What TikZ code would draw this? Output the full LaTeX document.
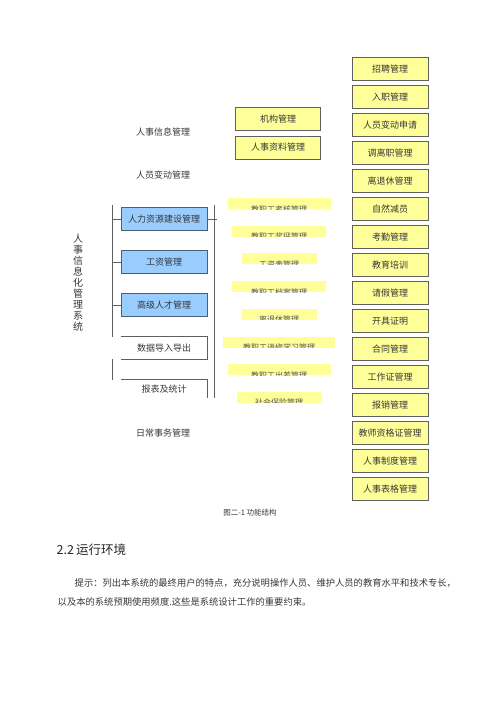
\documentclass[tikz,border=0pt]{standalone}
\usepackage{fontspec}
\newfontfamily\cjk{Noto Sans CJK SC}
\usetikzlibrary{positioning}

\definecolor{boxblue}{RGB}{153,204,255}
\definecolor{boxyellow}{RGB}{255,255,153}
\definecolor{edgeblue}{RGB}{75,95,115}
\definecolor{edgegray}{RGB}{95,95,95}
\definecolor{txt}{RGB}{55,55,55}

\begin{document}
\begin{tikzpicture}[x=1pt, y=-1pt, line width=0.8pt,
    every node/.style={font=\cjk\fontsize{9}{9}\selectfont, text=txt},
    bluebox/.style={draw=edgeblue, fill=boxblue, minimum width=86pt, minimum height=23pt, inner sep=0pt},
    plainbox/.style={minimum width=86pt, minimum height=22pt, inner sep=0pt},
    yellowbox/.style={draw=edgegray, fill=boxyellow, minimum height=23pt, inner sep=0pt},
    strip/.style={fill=boxyellow, minimum height=11pt, inner sep=0pt,
        path picture={\node[font=\cjk\fontsize{8}{8}\selectfont, text=black!65, inner sep=0pt]
            at (path picture bounding box.south) {#1};}},
    bar/.style={draw=edgegray, line width=0.7pt}]
    \useasboundingbox (0,0) rectangle (500,707);

    % system title, written top to bottom
    \node[align=center, font=\cjk\fontsize{10}{11}\selectfont] (sys) at (78,283)
        {人\\事\\信\\息\\化\\管\\理\\系\\统};

    % second level
    \node (info) at (163,132) {人事信息管理};
    \node (move) at (163,175) {人员变动管理};
    \node[bluebox] (hr1) at (164,219) {人力资源建设管理};
    \node[bluebox] (hr2) at (164,262) {工资管理};
    \node[bluebox] (hr3) at (164,305) {高级人才管理};
    \node[plainbox] (imp) at (164,348) {数据导入导出};
    \node[plainbox, minimum height=18pt] (rep) at (164,389) {报表及统计};
    \node (daily) at (163,433) {日常事务管理};
    \draw[bar] (imp.north west) -- (imp.north east) -- (imp.south east) -- (imp.south west);
    \draw[bar] (rep.north west) -- (rep.north east) -- (rep.south east);

    % brackets
    \coordinate (lt) at (112,205);
    \coordinate (lb) at (112,337);
    \coordinate (lt2) at (112,359);
    \coordinate (lb2) at (112,380);
    \coordinate (rt) at (214,205);
    \coordinate (rb) at (214,398);
    \draw[bar] (lt) -- (lb);
    \draw[bar] (lt2) -- (lb2);
    \draw[bar] (rt) -- (rb);
    \foreach \n in {hr1,hr2,hr3}
        \draw[bar] (\n.west) -- (\n.west -| lt);
    \draw[bar] (hr1.east) -- ([xshift=3pt]hr1.east -| rt);

    % third level
    \node[yellowbox, minimum width=85pt] (org) at (278,119) {机构管理};
    \node[yellowbox, minimum width=85pt] (file) at (278,147.5) {人事资料管理};
    \foreach \w/\t [count=\i from 0] in {103/教职工考核管理, 94/教职工奖惩管理, 75/工资表管理,
        94/教职工档案管理, 75/离退休管理, 112/教职工进修学习管理, 103/教职工出差管理, 84/社会保险管理}
        \node[strip=\t, minimum width=\w] (m\i) at (279,{203.5+27.7*\i}) {};

    % daily affairs
    \foreach \t [count=\i from 0] in {招聘管理, 入职管理, 人员变动申请, 调离职管理, 离退休管理,
        自然减员, 考勤管理, 教育培训, 请假管理, 开具证明, 合同管理, 工作证管理, 报销管理,
        教师资格证管理, 人事制度管理, 人事表格管理}
        \node[yellowbox, minimum width=76pt] (r\i) at (390,{69+28*\i}) {\t};

    % caption and text below
    \node[font=\cjk\fontsize{7.5}{7.5}\selectfont] (cap) at (250,513) {图二-1 功能结构};
    \node[anchor=west, font=\cjk\fontsize{12.5}{12.5}\selectfont, text=black!85] (sec) at (53,550) {2.2\,运行环境};
    \node[anchor=west, font=\cjk\fontsize{9.3}{9.3}\selectfont] (p1) at (71,583)
        {提示：列出本系统的最终用户的特点，充分说明操作人员、维护人员的教育水平和技术专长，};
    \node[anchor=west, font=\cjk\fontsize{9.3}{9.3}\selectfont] (p2) at (54,602)
        {以及本的系统预期使用频度.这些是系统设计工作的重要约束。};
\end{tikzpicture}
\end{document}
